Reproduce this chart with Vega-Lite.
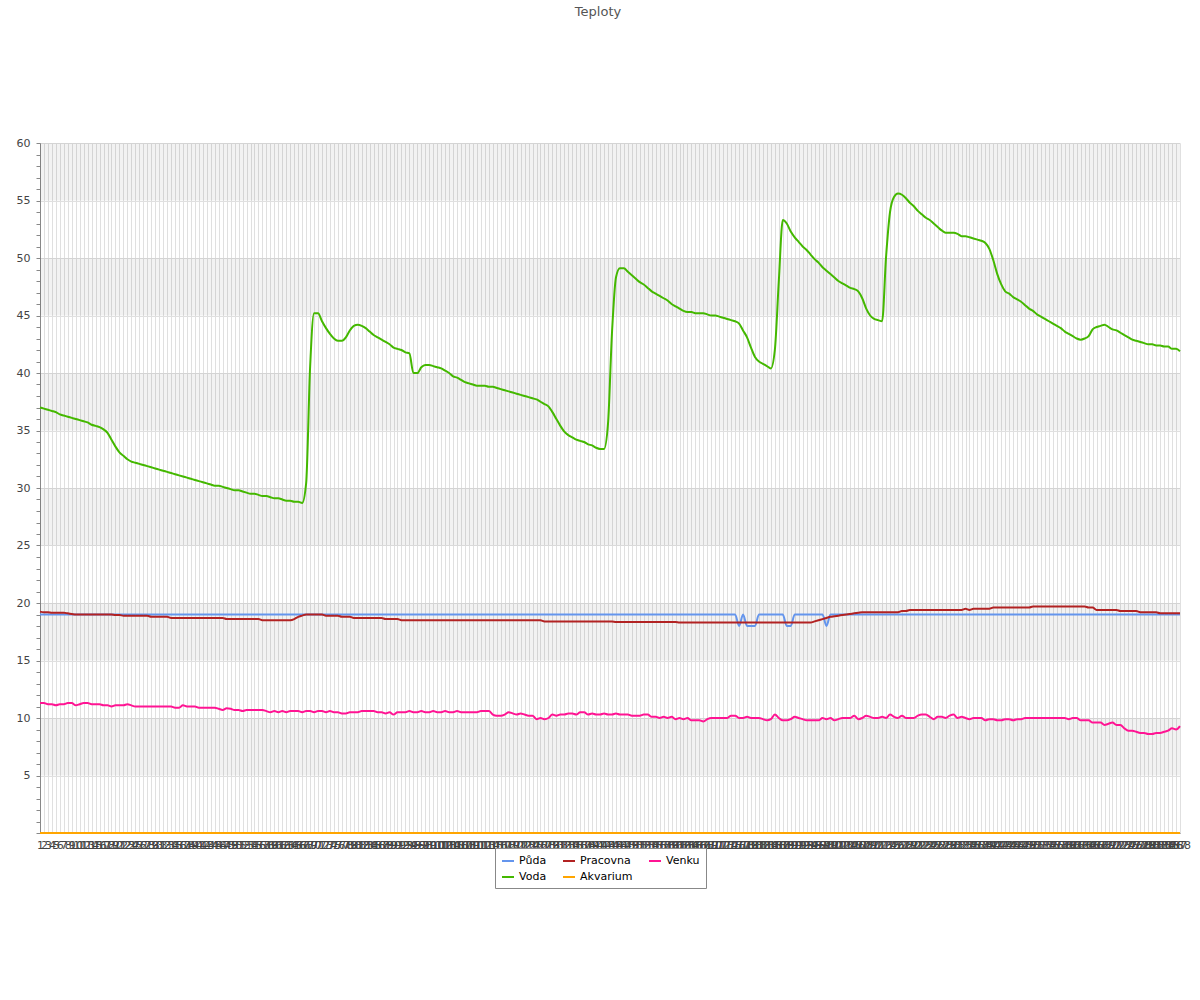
{
"$schema":"https://vega.github.io/schema/vega-lite/v6.json",
"width":1140,"height":690,
"autosize":{"type":"none"},
"padding":{"left":40,"top":143,"right":20,"bottom":167},
"background":"white",
"title":{"text":"Teploty","fontSize":13,"fontWeight":"normal","color":"#555","anchor":"middle","offset":118,"dx":-12,"font":"DejaVu Sans"},
"config":{"font":"DejaVu Sans","view":{"stroke":null}},
"datasets":{
"bands":[{"lo":5,"hi":10},{"lo":15,"hi":20},{"lo":25,"hi":30},{"lo":35,"hi":40},{"lo":45,"hi":50},{"lo":55,"hi":60}],
"temps":[
{"i":1,"Půda":19,"Voda":37.0,"Pracovna":19.25,"Akvarium":0,"Venku":11.3},
{"i":2,"Půda":19,"Voda":36.9,"Pracovna":19.2,"Akvarium":0,"Venku":11.3},
{"i":3,"Půda":19,"Voda":36.8,"Pracovna":19.2,"Akvarium":0,"Venku":11.2},
{"i":4,"Půda":19,"Voda":36.7,"Pracovna":19.15,"Akvarium":0,"Venku":11.2},
{"i":5,"Půda":19,"Voda":36.6,"Pracovna":19.15,"Akvarium":0,"Venku":11.1},
{"i":6,"Půda":19,"Voda":36.4,"Pracovna":19.15,"Akvarium":0,"Venku":11.2},
{"i":7,"Půda":19,"Voda":36.3,"Pracovna":19.15,"Akvarium":0,"Venku":11.2},
{"i":8,"Půda":19,"Voda":36.2,"Pracovna":19.1,"Akvarium":0,"Venku":11.3},
{"i":9,"Půda":19,"Voda":36.1,"Pracovna":19.05,"Akvarium":0,"Venku":11.3},
{"i":10,"Půda":19,"Voda":36.0,"Pracovna":19.0,"Akvarium":0,"Venku":11.1},
{"i":11,"Půda":19,"Voda":35.9,"Pracovna":19.0,"Akvarium":0,"Venku":11.2},
{"i":12,"Půda":19,"Voda":35.8,"Pracovna":19.0,"Akvarium":0,"Venku":11.3},
{"i":13,"Půda":19,"Voda":35.7,"Pracovna":19.0,"Akvarium":0,"Venku":11.3},
{"i":14,"Půda":19,"Voda":35.5,"Pracovna":19.0,"Akvarium":0,"Venku":11.2},
{"i":15,"Půda":19,"Voda":35.4,"Pracovna":19.0,"Akvarium":0,"Venku":11.2},
{"i":16,"Půda":19,"Voda":35.3,"Pracovna":19.0,"Akvarium":0,"Venku":11.2},
{"i":17,"Půda":19,"Voda":35.1,"Pracovna":19.0,"Akvarium":0,"Venku":11.1},
{"i":18,"Půda":19,"Voda":34.8,"Pracovna":19.0,"Akvarium":0,"Venku":11.1},
{"i":19,"Půda":19,"Voda":34.2,"Pracovna":19.0,"Akvarium":0,"Venku":11.0},
{"i":20,"Půda":19,"Voda":33.6,"Pracovna":18.95,"Akvarium":0,"Venku":11.1},
{"i":21,"Půda":19,"Voda":33.1,"Pracovna":18.95,"Akvarium":0,"Venku":11.1},
{"i":22,"Půda":19,"Voda":32.8,"Pracovna":18.9,"Akvarium":0,"Venku":11.1},
{"i":23,"Půda":19,"Voda":32.5,"Pracovna":18.9,"Akvarium":0,"Venku":11.2},
{"i":24,"Půda":19,"Voda":32.3,"Pracovna":18.9,"Akvarium":0,"Venku":11.1},
{"i":25,"Půda":19,"Voda":32.2,"Pracovna":18.9,"Akvarium":0,"Venku":11.0},
{"i":26,"Půda":19,"Voda":32.1,"Pracovna":18.9,"Akvarium":0,"Venku":11.0},
{"i":27,"Půda":19,"Voda":32.0,"Pracovna":18.9,"Akvarium":0,"Venku":11.0},
{"i":28,"Půda":19,"Voda":31.9,"Pracovna":18.9,"Akvarium":0,"Venku":11.0},
{"i":29,"Půda":19,"Voda":31.8,"Pracovna":18.8,"Akvarium":0,"Venku":11.0},
{"i":30,"Půda":19,"Voda":31.7,"Pracovna":18.8,"Akvarium":0,"Venku":11.0},
{"i":31,"Půda":19,"Voda":31.6,"Pracovna":18.8,"Akvarium":0,"Venku":11.0},
{"i":32,"Půda":19,"Voda":31.5,"Pracovna":18.8,"Akvarium":0,"Venku":11.0},
{"i":33,"Půda":19,"Voda":31.4,"Pracovna":18.8,"Akvarium":0,"Venku":11.0},
{"i":34,"Půda":19,"Voda":31.3,"Pracovna":18.7,"Akvarium":0,"Venku":11.0},
{"i":35,"Půda":19,"Voda":31.2,"Pracovna":18.7,"Akvarium":0,"Venku":10.9},
{"i":36,"Půda":19,"Voda":31.1,"Pracovna":18.7,"Akvarium":0,"Venku":10.9},
{"i":37,"Půda":19,"Voda":31.0,"Pracovna":18.7,"Akvarium":0,"Venku":11.1},
{"i":38,"Půda":19,"Voda":30.9,"Pracovna":18.7,"Akvarium":0,"Venku":11.0},
{"i":39,"Půda":19,"Voda":30.8,"Pracovna":18.7,"Akvarium":0,"Venku":11.0},
{"i":40,"Půda":19,"Voda":30.7,"Pracovna":18.7,"Akvarium":0,"Venku":11.0},
{"i":41,"Půda":19,"Voda":30.6,"Pracovna":18.7,"Akvarium":0,"Venku":10.9},
{"i":42,"Půda":19,"Voda":30.5,"Pracovna":18.7,"Akvarium":0,"Venku":10.9},
{"i":43,"Půda":19,"Voda":30.4,"Pracovna":18.7,"Akvarium":0,"Venku":10.9},
{"i":44,"Půda":19,"Voda":30.3,"Pracovna":18.7,"Akvarium":0,"Venku":10.9},
{"i":45,"Půda":19,"Voda":30.2,"Pracovna":18.7,"Akvarium":0,"Venku":10.9},
{"i":46,"Půda":19,"Voda":30.2,"Pracovna":18.7,"Akvarium":0,"Venku":10.8},
{"i":47,"Půda":19,"Voda":30.1,"Pracovna":18.7,"Akvarium":0,"Venku":10.7},
{"i":48,"Půda":19,"Voda":30.0,"Pracovna":18.6,"Akvarium":0,"Venku":10.85},
{"i":49,"Půda":19,"Voda":29.9,"Pracovna":18.6,"Akvarium":0,"Venku":10.8},
{"i":50,"Půda":19,"Voda":29.8,"Pracovna":18.6,"Akvarium":0,"Venku":10.7},
{"i":51,"Půda":19,"Voda":29.8,"Pracovna":18.6,"Akvarium":0,"Venku":10.7},
{"i":52,"Půda":19,"Voda":29.7,"Pracovna":18.6,"Akvarium":0,"Venku":10.6},
{"i":53,"Půda":19,"Voda":29.6,"Pracovna":18.6,"Akvarium":0,"Venku":10.7},
{"i":54,"Půda":19,"Voda":29.5,"Pracovna":18.6,"Akvarium":0,"Venku":10.7},
{"i":55,"Půda":19,"Voda":29.5,"Pracovna":18.6,"Akvarium":0,"Venku":10.7},
{"i":56,"Půda":19,"Voda":29.4,"Pracovna":18.6,"Akvarium":0,"Venku":10.7},
{"i":57,"Půda":19,"Voda":29.3,"Pracovna":18.5,"Akvarium":0,"Venku":10.7},
{"i":58,"Půda":19,"Voda":29.3,"Pracovna":18.5,"Akvarium":0,"Venku":10.6},
{"i":59,"Půda":19,"Voda":29.2,"Pracovna":18.5,"Akvarium":0,"Venku":10.5},
{"i":60,"Půda":19,"Voda":29.1,"Pracovna":18.5,"Akvarium":0,"Venku":10.6},
{"i":61,"Půda":19,"Voda":29.1,"Pracovna":18.5,"Akvarium":0,"Venku":10.5},
{"i":62,"Půda":19,"Voda":29.0,"Pracovna":18.5,"Akvarium":0,"Venku":10.6},
{"i":63,"Půda":19,"Voda":28.9,"Pracovna":18.5,"Akvarium":0,"Venku":10.5},
{"i":64,"Půda":19,"Voda":28.9,"Pracovna":18.5,"Akvarium":0,"Venku":10.6},
{"i":65,"Půda":19,"Voda":28.8,"Pracovna":18.6,"Akvarium":0,"Venku":10.6},
{"i":66,"Půda":19,"Voda":28.8,"Pracovna":18.8,"Akvarium":0,"Venku":10.6},
{"i":67,"Půda":19,"Voda":28.7,"Pracovna":18.9,"Akvarium":0,"Venku":10.5},
{"i":68,"Půda":19,"Voda":30.4,"Pracovna":19.0,"Akvarium":0,"Venku":10.6},
{"i":69,"Půda":19,"Voda":40.5,"Pracovna":19.0,"Akvarium":0,"Venku":10.6},
{"i":70,"Půda":19,"Voda":45.2,"Pracovna":19.0,"Akvarium":0,"Venku":10.5},
{"i":71,"Půda":19,"Voda":45.2,"Pracovna":19.0,"Akvarium":0,"Venku":10.6},
{"i":72,"Půda":19,"Voda":44.5,"Pracovna":19.0,"Akvarium":0,"Venku":10.6},
{"i":73,"Půda":19,"Voda":43.9,"Pracovna":18.9,"Akvarium":0,"Venku":10.5},
{"i":74,"Půda":19,"Voda":43.4,"Pracovna":18.9,"Akvarium":0,"Venku":10.6},
{"i":75,"Půda":19,"Voda":43.0,"Pracovna":18.9,"Akvarium":0,"Venku":10.5},
{"i":76,"Půda":19,"Voda":42.8,"Pracovna":18.9,"Akvarium":0,"Venku":10.5},
{"i":77,"Půda":19,"Voda":42.8,"Pracovna":18.8,"Akvarium":0,"Venku":10.4},
{"i":78,"Půda":19,"Voda":43.1,"Pracovna":18.8,"Akvarium":0,"Venku":10.4},
{"i":79,"Půda":19,"Voda":43.7,"Pracovna":18.8,"Akvarium":0,"Venku":10.5},
{"i":80,"Půda":19,"Voda":44.1,"Pracovna":18.7,"Akvarium":0,"Venku":10.5},
{"i":81,"Půda":19,"Voda":44.2,"Pracovna":18.7,"Akvarium":0,"Venku":10.5},
{"i":82,"Půda":19,"Voda":44.1,"Pracovna":18.7,"Akvarium":0,"Venku":10.6},
{"i":83,"Půda":19,"Voda":43.9,"Pracovna":18.7,"Akvarium":0,"Venku":10.6},
{"i":84,"Půda":19,"Voda":43.6,"Pracovna":18.7,"Akvarium":0,"Venku":10.6},
{"i":85,"Půda":19,"Voda":43.3,"Pracovna":18.7,"Akvarium":0,"Venku":10.6},
{"i":86,"Půda":19,"Voda":43.1,"Pracovna":18.7,"Akvarium":0,"Venku":10.5},
{"i":87,"Půda":19,"Voda":42.9,"Pracovna":18.7,"Akvarium":0,"Venku":10.5},
{"i":88,"Půda":19,"Voda":42.7,"Pracovna":18.6,"Akvarium":0,"Venku":10.4},
{"i":89,"Půda":19,"Voda":42.5,"Pracovna":18.6,"Akvarium":0,"Venku":10.5},
{"i":90,"Půda":19,"Voda":42.2,"Pracovna":18.6,"Akvarium":0,"Venku":10.3},
{"i":91,"Půda":19,"Voda":42.1,"Pracovna":18.6,"Akvarium":0,"Venku":10.5},
{"i":92,"Půda":19,"Voda":42.0,"Pracovna":18.5,"Akvarium":0,"Venku":10.5},
{"i":93,"Půda":19,"Voda":41.8,"Pracovna":18.5,"Akvarium":0,"Venku":10.5},
{"i":94,"Půda":19,"Voda":41.7,"Pracovna":18.5,"Akvarium":0,"Venku":10.6},
{"i":95,"Půda":19,"Voda":40.0,"Pracovna":18.5,"Akvarium":0,"Venku":10.5},
{"i":96,"Půda":19,"Voda":40.0,"Pracovna":18.5,"Akvarium":0,"Venku":10.5},
{"i":97,"Půda":19,"Voda":40.5,"Pracovna":18.5,"Akvarium":0,"Venku":10.6},
{"i":98,"Půda":19,"Voda":40.7,"Pracovna":18.5,"Akvarium":0,"Venku":10.5},
{"i":99,"Půda":19,"Voda":40.7,"Pracovna":18.5,"Akvarium":0,"Venku":10.5},
{"i":100,"Půda":19,"Voda":40.6,"Pracovna":18.5,"Akvarium":0,"Venku":10.6},
{"i":101,"Půda":19,"Voda":40.5,"Pracovna":18.5,"Akvarium":0,"Venku":10.5},
{"i":102,"Půda":19,"Voda":40.4,"Pracovna":18.5,"Akvarium":0,"Venku":10.5},
{"i":103,"Půda":19,"Voda":40.2,"Pracovna":18.5,"Akvarium":0,"Venku":10.6},
{"i":104,"Půda":19,"Voda":40.0,"Pracovna":18.5,"Akvarium":0,"Venku":10.5},
{"i":105,"Půda":19,"Voda":39.7,"Pracovna":18.5,"Akvarium":0,"Venku":10.5},
{"i":106,"Půda":19,"Voda":39.6,"Pracovna":18.5,"Akvarium":0,"Venku":10.6},
{"i":107,"Půda":19,"Voda":39.4,"Pracovna":18.5,"Akvarium":0,"Venku":10.5},
{"i":108,"Půda":19,"Voda":39.2,"Pracovna":18.5,"Akvarium":0,"Venku":10.5},
{"i":109,"Půda":19,"Voda":39.1,"Pracovna":18.5,"Akvarium":0,"Venku":10.5},
{"i":110,"Půda":19,"Voda":39.0,"Pracovna":18.5,"Akvarium":0,"Venku":10.5},
{"i":111,"Půda":19,"Voda":38.9,"Pracovna":18.5,"Akvarium":0,"Venku":10.5},
{"i":112,"Půda":19,"Voda":38.9,"Pracovna":18.5,"Akvarium":0,"Venku":10.6},
{"i":113,"Půda":19,"Voda":38.9,"Pracovna":18.5,"Akvarium":0,"Venku":10.6},
{"i":114,"Půda":19,"Voda":38.8,"Pracovna":18.5,"Akvarium":0,"Venku":10.6},
{"i":115,"Půda":19,"Voda":38.8,"Pracovna":18.5,"Akvarium":0,"Venku":10.3},
{"i":116,"Půda":19,"Voda":38.7,"Pracovna":18.5,"Akvarium":0,"Venku":10.2},
{"i":117,"Půda":19,"Voda":38.6,"Pracovna":18.5,"Akvarium":0,"Venku":10.2},
{"i":118,"Půda":19,"Voda":38.5,"Pracovna":18.5,"Akvarium":0,"Venku":10.3},
{"i":119,"Půda":19,"Voda":38.4,"Pracovna":18.5,"Akvarium":0,"Venku":10.5},
{"i":120,"Půda":19,"Voda":38.3,"Pracovna":18.5,"Akvarium":0,"Venku":10.4},
{"i":121,"Půda":19,"Voda":38.2,"Pracovna":18.5,"Akvarium":0,"Venku":10.3},
{"i":122,"Půda":19,"Voda":38.1,"Pracovna":18.5,"Akvarium":0,"Venku":10.4},
{"i":123,"Půda":19,"Voda":38.0,"Pracovna":18.5,"Akvarium":0,"Venku":10.3},
{"i":124,"Půda":19,"Voda":37.9,"Pracovna":18.5,"Akvarium":0,"Venku":10.2},
{"i":125,"Půda":19,"Voda":37.8,"Pracovna":18.5,"Akvarium":0,"Venku":10.2},
{"i":126,"Půda":19,"Voda":37.7,"Pracovna":18.5,"Akvarium":0,"Venku":9.9},
{"i":127,"Půda":19,"Voda":37.5,"Pracovna":18.5,"Akvarium":0,"Venku":10.0},
{"i":128,"Půda":19,"Voda":37.3,"Pracovna":18.4,"Akvarium":0,"Venku":9.9},
{"i":129,"Půda":19,"Voda":37.1,"Pracovna":18.4,"Akvarium":0,"Venku":10.0},
{"i":130,"Půda":19,"Voda":36.6,"Pracovna":18.4,"Akvarium":0,"Venku":10.3},
{"i":131,"Půda":19,"Voda":36.0,"Pracovna":18.4,"Akvarium":0,"Venku":10.2},
{"i":132,"Půda":19,"Voda":35.4,"Pracovna":18.4,"Akvarium":0,"Venku":10.3},
{"i":133,"Půda":19,"Voda":34.9,"Pracovna":18.4,"Akvarium":0,"Venku":10.3},
{"i":134,"Půda":19,"Voda":34.6,"Pracovna":18.4,"Akvarium":0,"Venku":10.4},
{"i":135,"Půda":19,"Voda":34.4,"Pracovna":18.4,"Akvarium":0,"Venku":10.4},
{"i":136,"Půda":19,"Voda":34.2,"Pracovna":18.4,"Akvarium":0,"Venku":10.3},
{"i":137,"Půda":19,"Voda":34.1,"Pracovna":18.4,"Akvarium":0,"Venku":10.5},
{"i":138,"Půda":19,"Voda":34.0,"Pracovna":18.4,"Akvarium":0,"Venku":10.5},
{"i":139,"Půda":19,"Voda":33.8,"Pracovna":18.4,"Akvarium":0,"Venku":10.3},
{"i":140,"Půda":19,"Voda":33.7,"Pracovna":18.4,"Akvarium":0,"Venku":10.4},
{"i":141,"Půda":19,"Voda":33.5,"Pracovna":18.4,"Akvarium":0,"Venku":10.3},
{"i":142,"Půda":19,"Voda":33.4,"Pracovna":18.4,"Akvarium":0,"Venku":10.3},
{"i":143,"Půda":19,"Voda":33.4,"Pracovna":18.4,"Akvarium":0,"Venku":10.4},
{"i":144,"Půda":19,"Voda":35.6,"Pracovna":18.4,"Akvarium":0,"Venku":10.3},
{"i":145,"Půda":19,"Voda":43.5,"Pracovna":18.4,"Akvarium":0,"Venku":10.3},
{"i":146,"Půda":19,"Voda":48.3,"Pracovna":18.35,"Akvarium":0,"Venku":10.4},
{"i":147,"Půda":19,"Voda":49.1,"Pracovna":18.35,"Akvarium":0,"Venku":10.3},
{"i":148,"Půda":19,"Voda":49.1,"Pracovna":18.35,"Akvarium":0,"Venku":10.3},
{"i":149,"Půda":19,"Voda":48.8,"Pracovna":18.35,"Akvarium":0,"Venku":10.3},
{"i":150,"Půda":19,"Voda":48.5,"Pracovna":18.35,"Akvarium":0,"Venku":10.2},
{"i":151,"Půda":19,"Voda":48.2,"Pracovna":18.35,"Akvarium":0,"Venku":10.2},
{"i":152,"Půda":19,"Voda":47.9,"Pracovna":18.35,"Akvarium":0,"Venku":10.2},
{"i":153,"Půda":19,"Voda":47.7,"Pracovna":18.35,"Akvarium":0,"Venku":10.3},
{"i":154,"Půda":19,"Voda":47.4,"Pracovna":18.35,"Akvarium":0,"Venku":10.3},
{"i":155,"Půda":19,"Voda":47.1,"Pracovna":18.35,"Akvarium":0,"Venku":10.1},
{"i":156,"Půda":19,"Voda":46.9,"Pracovna":18.35,"Akvarium":0,"Venku":10.1},
{"i":157,"Půda":19,"Voda":46.7,"Pracovna":18.35,"Akvarium":0,"Venku":10.0},
{"i":158,"Půda":19,"Voda":46.5,"Pracovna":18.35,"Akvarium":0,"Venku":10.1},
{"i":159,"Půda":19,"Voda":46.3,"Pracovna":18.35,"Akvarium":0,"Venku":10.0},
{"i":160,"Půda":19,"Voda":46.0,"Pracovna":18.35,"Akvarium":0,"Venku":10.1},
{"i":161,"Půda":19,"Voda":45.8,"Pracovna":18.35,"Akvarium":0,"Venku":9.9},
{"i":162,"Půda":19,"Voda":45.6,"Pracovna":18.3,"Akvarium":0,"Venku":10.0},
{"i":163,"Půda":19,"Voda":45.4,"Pracovna":18.3,"Akvarium":0,"Venku":9.9},
{"i":164,"Půda":19,"Voda":45.3,"Pracovna":18.3,"Akvarium":0,"Venku":10.0},
{"i":165,"Půda":19,"Voda":45.3,"Pracovna":18.3,"Akvarium":0,"Venku":9.8},
{"i":166,"Půda":19,"Voda":45.2,"Pracovna":18.3,"Akvarium":0,"Venku":9.8},
{"i":167,"Půda":19,"Voda":45.2,"Pracovna":18.3,"Akvarium":0,"Venku":9.8},
{"i":168,"Půda":19,"Voda":45.2,"Pracovna":18.3,"Akvarium":0,"Venku":9.7},
{"i":169,"Půda":19,"Voda":45.1,"Pracovna":18.3,"Akvarium":0,"Venku":9.9},
{"i":170,"Půda":19,"Voda":45.0,"Pracovna":18.3,"Akvarium":0,"Venku":10.0},
{"i":171,"Půda":19,"Voda":45.0,"Pracovna":18.3,"Akvarium":0,"Venku":10.0},
{"i":172,"Půda":19,"Voda":44.9,"Pracovna":18.3,"Akvarium":0,"Venku":10.0},
{"i":173,"Půda":19,"Voda":44.8,"Pracovna":18.3,"Akvarium":0,"Venku":10.0},
{"i":174,"Půda":19,"Voda":44.7,"Pracovna":18.3,"Akvarium":0,"Venku":10.0},
{"i":175,"Půda":19,"Voda":44.6,"Pracovna":18.3,"Akvarium":0,"Venku":10.2},
{"i":176,"Půda":19,"Voda":44.5,"Pracovna":18.3,"Akvarium":0,"Venku":10.2},
{"i":177,"Půda":18,"Voda":44.3,"Pracovna":18.3,"Akvarium":0,"Venku":10.0},
{"i":178,"Půda":19,"Voda":43.7,"Pracovna":18.3,"Akvarium":0,"Venku":10.0},
{"i":179,"Půda":18,"Voda":43.1,"Pracovna":18.3,"Akvarium":0,"Venku":10.1},
{"i":180,"Půda":18,"Voda":42.2,"Pracovna":18.3,"Akvarium":0,"Venku":10.0},
{"i":181,"Půda":18,"Voda":41.4,"Pracovna":18.3,"Akvarium":0,"Venku":10.0},
{"i":182,"Půda":19,"Voda":41.0,"Pracovna":18.3,"Akvarium":0,"Venku":10.0},
{"i":183,"Půda":19,"Voda":40.8,"Pracovna":18.3,"Akvarium":0,"Venku":9.9},
{"i":184,"Půda":19,"Voda":40.6,"Pracovna":18.3,"Akvarium":0,"Venku":9.8},
{"i":185,"Půda":19,"Voda":40.4,"Pracovna":18.3,"Akvarium":0,"Venku":9.9},
{"i":186,"Půda":19,"Voda":42.0,"Pracovna":18.3,"Akvarium":0,"Venku":10.3},
{"i":187,"Půda":19,"Voda":48.0,"Pracovna":18.3,"Akvarium":0,"Venku":10.0},
{"i":188,"Půda":19,"Voda":53.3,"Pracovna":18.3,"Akvarium":0,"Venku":9.8},
{"i":189,"Půda":18,"Voda":53.0,"Pracovna":18.3,"Akvarium":0,"Venku":9.8},
{"i":190,"Půda":18,"Voda":52.3,"Pracovna":18.3,"Akvarium":0,"Venku":9.9},
{"i":191,"Půda":19,"Voda":51.8,"Pracovna":18.3,"Akvarium":0,"Venku":10.1},
{"i":192,"Půda":19,"Voda":51.4,"Pracovna":18.3,"Akvarium":0,"Venku":10.0},
{"i":193,"Půda":19,"Voda":51.0,"Pracovna":18.3,"Akvarium":0,"Venku":9.9},
{"i":194,"Půda":19,"Voda":50.7,"Pracovna":18.3,"Akvarium":0,"Venku":9.8},
{"i":195,"Půda":19,"Voda":50.3,"Pracovna":18.3,"Akvarium":0,"Venku":9.8},
{"i":196,"Půda":19,"Voda":49.9,"Pracovna":18.4,"Akvarium":0,"Venku":9.8},
{"i":197,"Půda":19,"Voda":49.6,"Pracovna":18.5,"Akvarium":0,"Venku":9.8},
{"i":198,"Půda":19,"Voda":49.2,"Pracovna":18.6,"Akvarium":0,"Venku":10.0},
{"i":199,"Půda":18,"Voda":48.9,"Pracovna":18.7,"Akvarium":0,"Venku":9.9},
{"i":200,"Půda":19,"Voda":48.6,"Pracovna":18.8,"Akvarium":0,"Venku":10.0},
{"i":201,"Půda":19,"Voda":48.3,"Pracovna":18.85,"Akvarium":0,"Venku":9.8},
{"i":202,"Půda":19,"Voda":48.0,"Pracovna":18.9,"Akvarium":0,"Venku":9.9},
{"i":203,"Půda":19,"Voda":47.8,"Pracovna":18.95,"Akvarium":0,"Venku":10.0},
{"i":204,"Půda":19,"Voda":47.6,"Pracovna":19.0,"Akvarium":0,"Venku":10.0},
{"i":205,"Půda":19,"Voda":47.4,"Pracovna":19.05,"Akvarium":0,"Venku":10.0},
{"i":206,"Půda":19,"Voda":47.3,"Pracovna":19.1,"Akvarium":0,"Venku":10.2},
{"i":207,"Půda":19,"Voda":47.1,"Pracovna":19.15,"Akvarium":0,"Venku":9.9},
{"i":208,"Půda":19,"Voda":46.5,"Pracovna":19.2,"Akvarium":0,"Venku":10.0},
{"i":209,"Půda":19,"Voda":45.6,"Pracovna":19.2,"Akvarium":0,"Venku":10.2},
{"i":210,"Půda":19,"Voda":45.0,"Pracovna":19.2,"Akvarium":0,"Venku":10.1},
{"i":211,"Půda":19,"Voda":44.7,"Pracovna":19.2,"Akvarium":0,"Venku":10.0},
{"i":212,"Půda":19,"Voda":44.6,"Pracovna":19.2,"Akvarium":0,"Venku":10.0},
{"i":213,"Půda":19,"Voda":44.5,"Pracovna":19.2,"Akvarium":0,"Venku":10.1},
{"i":214,"Půda":19,"Voda":50.1,"Pracovna":19.2,"Akvarium":0,"Venku":10.0},
{"i":215,"Půda":19,"Voda":54.0,"Pracovna":19.2,"Akvarium":0,"Venku":10.3},
{"i":216,"Půda":19,"Voda":55.3,"Pracovna":19.2,"Akvarium":0,"Venku":10.1},
{"i":217,"Půda":19,"Voda":55.6,"Pracovna":19.2,"Akvarium":0,"Venku":10.0},
{"i":218,"Půda":19,"Voda":55.5,"Pracovna":19.3,"Akvarium":0,"Venku":10.2},
{"i":219,"Půda":19,"Voda":55.2,"Pracovna":19.3,"Akvarium":0,"Venku":10.0},
{"i":220,"Půda":19,"Voda":54.8,"Pracovna":19.4,"Akvarium":0,"Venku":10.0},
{"i":221,"Půda":19,"Voda":54.5,"Pracovna":19.4,"Akvarium":0,"Venku":10.0},
{"i":222,"Půda":19,"Voda":54.1,"Pracovna":19.4,"Akvarium":0,"Venku":10.2},
{"i":223,"Půda":19,"Voda":53.8,"Pracovna":19.4,"Akvarium":0,"Venku":10.3},
{"i":224,"Půda":19,"Voda":53.5,"Pracovna":19.4,"Akvarium":0,"Venku":10.3},
{"i":225,"Půda":19,"Voda":53.3,"Pracovna":19.4,"Akvarium":0,"Venku":10.1},
{"i":226,"Půda":19,"Voda":53.0,"Pracovna":19.4,"Akvarium":0,"Venku":9.9},
{"i":227,"Půda":19,"Voda":52.7,"Pracovna":19.4,"Akvarium":0,"Venku":10.1},
{"i":228,"Půda":19,"Voda":52.4,"Pracovna":19.4,"Akvarium":0,"Venku":10.1},
{"i":229,"Půda":19,"Voda":52.2,"Pracovna":19.4,"Akvarium":0,"Venku":10.0},
{"i":230,"Půda":19,"Voda":52.2,"Pracovna":19.4,"Akvarium":0,"Venku":10.2},
{"i":231,"Půda":19,"Voda":52.2,"Pracovna":19.4,"Akvarium":0,"Venku":10.3},
{"i":232,"Půda":19,"Voda":52.1,"Pracovna":19.4,"Akvarium":0,"Venku":10.0},
{"i":233,"Půda":19,"Voda":51.9,"Pracovna":19.4,"Akvarium":0,"Venku":10.1},
{"i":234,"Půda":19,"Voda":51.9,"Pracovna":19.5,"Akvarium":0,"Venku":10.0},
{"i":235,"Půda":19,"Voda":51.8,"Pracovna":19.4,"Akvarium":0,"Venku":9.9},
{"i":236,"Půda":19,"Voda":51.7,"Pracovna":19.5,"Akvarium":0,"Venku":10.0},
{"i":237,"Půda":19,"Voda":51.6,"Pracovna":19.5,"Akvarium":0,"Venku":10.0},
{"i":238,"Půda":19,"Voda":51.5,"Pracovna":19.5,"Akvarium":0,"Venku":10.0},
{"i":239,"Půda":19,"Voda":51.3,"Pracovna":19.5,"Akvarium":0,"Venku":9.8},
{"i":240,"Půda":19,"Voda":50.8,"Pracovna":19.5,"Akvarium":0,"Venku":9.9},
{"i":241,"Půda":19,"Voda":49.8,"Pracovna":19.6,"Akvarium":0,"Venku":9.9},
{"i":242,"Půda":19,"Voda":48.6,"Pracovna":19.6,"Akvarium":0,"Venku":9.8},
{"i":243,"Půda":19,"Voda":47.7,"Pracovna":19.6,"Akvarium":0,"Venku":9.8},
{"i":244,"Půda":19,"Voda":47.1,"Pracovna":19.6,"Akvarium":0,"Venku":9.9},
{"i":245,"Půda":19,"Voda":46.9,"Pracovna":19.6,"Akvarium":0,"Venku":9.9},
{"i":246,"Půda":19,"Voda":46.6,"Pracovna":19.6,"Akvarium":0,"Venku":9.8},
{"i":247,"Půda":19,"Voda":46.4,"Pracovna":19.6,"Akvarium":0,"Venku":9.9},
{"i":248,"Půda":19,"Voda":46.2,"Pracovna":19.6,"Akvarium":0,"Venku":9.9},
{"i":249,"Půda":19,"Voda":45.9,"Pracovna":19.6,"Akvarium":0,"Venku":10.0},
{"i":250,"Půda":19,"Voda":45.6,"Pracovna":19.6,"Akvarium":0,"Venku":10.0},
{"i":251,"Půda":19,"Voda":45.4,"Pracovna":19.7,"Akvarium":0,"Venku":10.0},
{"i":252,"Půda":19,"Voda":45.1,"Pracovna":19.7,"Akvarium":0,"Venku":10.0},
{"i":253,"Půda":19,"Voda":44.9,"Pracovna":19.7,"Akvarium":0,"Venku":10.0},
{"i":254,"Půda":19,"Voda":44.7,"Pracovna":19.7,"Akvarium":0,"Venku":10.0},
{"i":255,"Půda":19,"Voda":44.5,"Pracovna":19.7,"Akvarium":0,"Venku":10.0},
{"i":256,"Půda":19,"Voda":44.3,"Pracovna":19.7,"Akvarium":0,"Venku":10.0},
{"i":257,"Půda":19,"Voda":44.1,"Pracovna":19.7,"Akvarium":0,"Venku":10.0},
{"i":258,"Půda":19,"Voda":43.9,"Pracovna":19.7,"Akvarium":0,"Venku":10.0},
{"i":259,"Půda":19,"Voda":43.6,"Pracovna":19.7,"Akvarium":0,"Venku":10.0},
{"i":260,"Půda":19,"Voda":43.4,"Pracovna":19.7,"Akvarium":0,"Venku":9.9},
{"i":261,"Půda":19,"Voda":43.2,"Pracovna":19.7,"Akvarium":0,"Venku":10.0},
{"i":262,"Půda":19,"Voda":43.0,"Pracovna":19.7,"Akvarium":0,"Venku":10.0},
{"i":263,"Půda":19,"Voda":42.9,"Pracovna":19.7,"Akvarium":0,"Venku":9.8},
{"i":264,"Půda":19,"Voda":43.0,"Pracovna":19.7,"Akvarium":0,"Venku":9.8},
{"i":265,"Půda":19,"Voda":43.2,"Pracovna":19.6,"Akvarium":0,"Venku":9.8},
{"i":266,"Půda":19,"Voda":43.8,"Pracovna":19.6,"Akvarium":0,"Venku":9.6},
{"i":267,"Půda":19,"Voda":44.0,"Pracovna":19.4,"Akvarium":0,"Venku":9.6},
{"i":268,"Půda":19,"Voda":44.1,"Pracovna":19.4,"Akvarium":0,"Venku":9.6},
{"i":269,"Půda":19,"Voda":44.2,"Pracovna":19.4,"Akvarium":0,"Venku":9.4},
{"i":270,"Půda":19,"Voda":44.0,"Pracovna":19.4,"Akvarium":0,"Venku":9.5},
{"i":271,"Půda":19,"Voda":43.8,"Pracovna":19.4,"Akvarium":0,"Venku":9.6},
{"i":272,"Půda":19,"Voda":43.7,"Pracovna":19.4,"Akvarium":0,"Venku":9.4},
{"i":273,"Půda":19,"Voda":43.5,"Pracovna":19.3,"Akvarium":0,"Venku":9.4},
{"i":274,"Půda":19,"Voda":43.3,"Pracovna":19.3,"Akvarium":0,"Venku":9.1},
{"i":275,"Půda":19,"Voda":43.1,"Pracovna":19.3,"Akvarium":0,"Venku":8.9},
{"i":276,"Půda":19,"Voda":42.9,"Pracovna":19.3,"Akvarium":0,"Venku":8.9},
{"i":277,"Půda":19,"Voda":42.8,"Pracovna":19.3,"Akvarium":0,"Venku":8.8},
{"i":278,"Půda":19,"Voda":42.7,"Pracovna":19.2,"Akvarium":0,"Venku":8.7},
{"i":279,"Půda":19,"Voda":42.6,"Pracovna":19.2,"Akvarium":0,"Venku":8.7},
{"i":280,"Půda":19,"Voda":42.5,"Pracovna":19.2,"Akvarium":0,"Venku":8.6},
{"i":281,"Půda":19,"Voda":42.5,"Pracovna":19.2,"Akvarium":0,"Venku":8.6},
{"i":282,"Půda":19,"Voda":42.4,"Pracovna":19.2,"Akvarium":0,"Venku":8.7},
{"i":283,"Půda":19,"Voda":42.4,"Pracovna":19.1,"Akvarium":0,"Venku":8.7},
{"i":284,"Půda":19,"Voda":42.3,"Pracovna":19.1,"Akvarium":0,"Venku":8.8},
{"i":285,"Půda":19,"Voda":42.3,"Pracovna":19.1,"Akvarium":0,"Venku":8.9},
{"i":286,"Půda":19,"Voda":42.1,"Pracovna":19.1,"Akvarium":0,"Venku":9.1},
{"i":287,"Půda":19,"Voda":42.1,"Pracovna":19.1,"Akvarium":0,"Venku":9.0},
{"i":288,"Půda":19,"Voda":41.9,"Pracovna":19.1,"Akvarium":0,"Venku":9.3}
]},
"layer":[
{"data":{"name":"bands"},
 "mark":{"type":"rect","fill":"#000000","opacity":0.05},
 "encoding":{"y":{"field":"lo","type":"quantitative","scale":{"domain":[0,60],"nice":false},
   "axis":{"title":null,"values":[0,1,2,3,4,5,6,7,8,9,10,11,12,13,14,15,16,17,18,19,20,21,22,23,24,25,26,27,28,29,30,31,32,33,34,35,36,37,38,39,40,41,42,43,44,45,46,47,48,49,50,51,52,53,54,55,56,57,58,59,60],
    "labelExpr":"datum.value % 5 === 0 && datum.value > 0 ? datum.label : ''",
    "grid":true,"gridColor":"#e0e0e0",
    "gridOpacity":{"condition":{"test":"datum.value % 5 === 0","value":1},"value":0},
    "tickSize":4,"tickColor":"#888","domainColor":"#888","labelColor":"#444","labelFontSize":11,"labelPadding":6,"labelFont":"DejaVu Sans"}},
  "y2":{"field":"hi"}}},
{"data":{"name":"temps"},
 "transform":[{"fold":["Půda","Voda","Pracovna","Akvarium","Venku"],"as":["series","value"]}],
 "mark":{"type":"line","strokeWidth":2,"interpolate":"monotone"},
 "encoding":{
  "x":{"field":"i","type":"ordinal","scale":{"type":"point","padding":0},
   "axis":{"title":null,"labelAngle":0,"labelOverlap":false,"labelFontSize":11,"labelColor":"#444","labelFont":"DejaVu Sans","grid":true,"gridColor":"#e0e0e0","ticks":false,"domainColor":"#888","labelPadding":6}},
  "y":{"field":"value","type":"quantitative","scale":{"domain":[0,60],"nice":false},
   "axis":{"title":null,"values":[0,1,2,3,4,5,6,7,8,9,10,11,12,13,14,15,16,17,18,19,20,21,22,23,24,25,26,27,28,29,30,31,32,33,34,35,36,37,38,39,40,41,42,43,44,45,46,47,48,49,50,51,52,53,54,55,56,57,58,59,60],
    "labelExpr":"datum.value % 5 === 0 && datum.value > 0 ? datum.label : ''",
    "grid":true,"gridColor":"#e0e0e0",
    "gridOpacity":{"condition":{"test":"datum.value % 5 === 0","value":1},"value":0},
    "tickSize":4,"tickColor":"#888","domainColor":"#888","labelColor":"#444","labelFontSize":11,"labelPadding":6,"labelFont":"DejaVu Sans"}},
  "color":{"field":"series","type":"nominal",
   "scale":{"domain":["Půda","Voda","Pracovna","Akvarium","Venku"],"range":["#6495ED","#44B800","#B22222","#FFA500","#FF1493"]},
   "legend":{"title":null,"orient":"none","legendX":455,"legendY":705,"columns":3,"symbolType":"stroke","symbolStrokeWidth":2,"symbolSize":144,"labelFontSize":11,"labelColor":"#000","labelFont":"DejaVu Sans","strokeColor":"#888","fillColor":"#fff","padding":6,"columnPadding":12,"rowPadding":4}}
 }}
]
}
